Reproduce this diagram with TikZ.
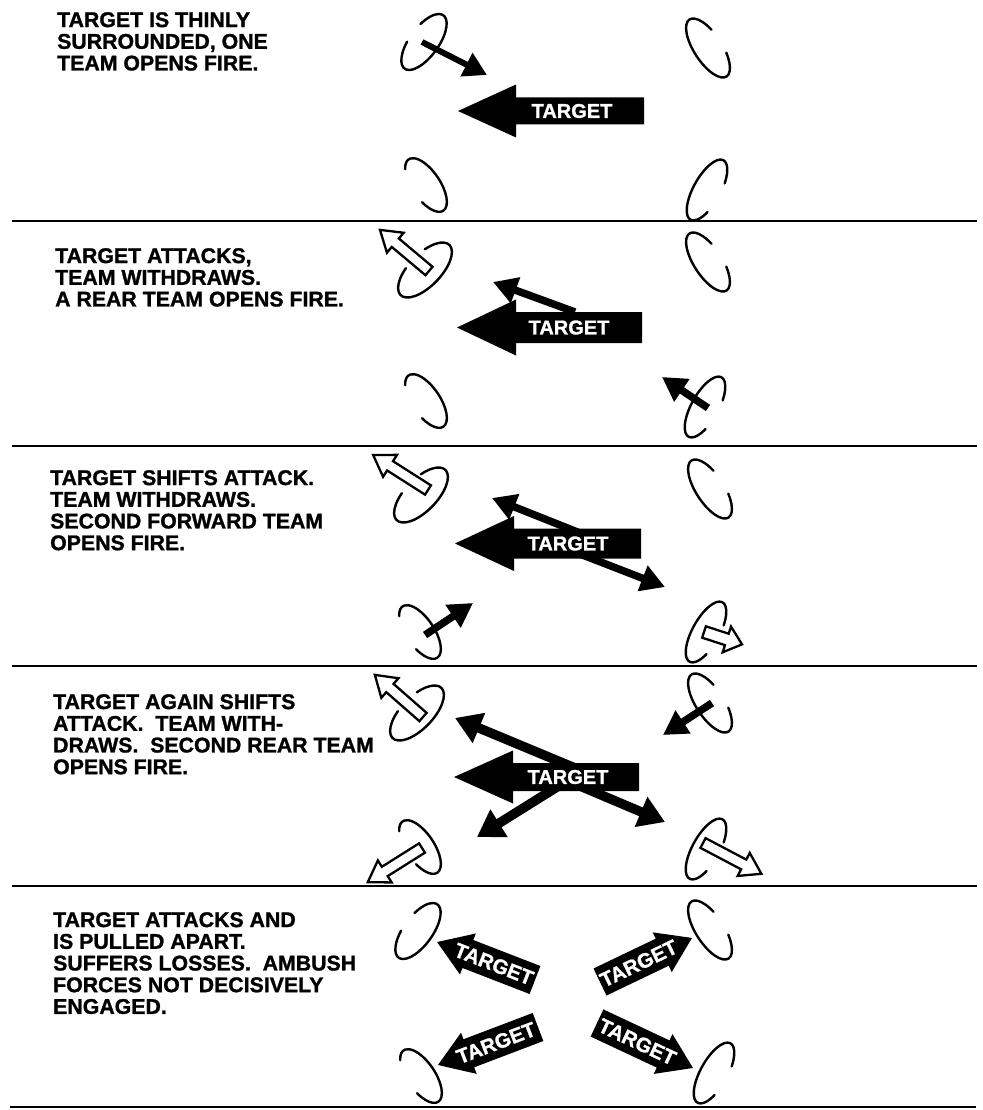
\documentclass[tikz,border=0pt]{standalone}
\usepackage{fontspec}
\setmainfont{Liberation Sans}[BoldFeatures={FakeBold=1.2}]
\usetikzlibrary{arrows.meta}

\tikzset{
 rule/.style={line width=2.4pt},
 ring/.style={line width=2.4pt, line cap=round},
 blk/.style={line width=7.5pt, -{Triangle[length=24pt,width=26pt]}},
 blkfirst/.style={line width=6pt, -{Triangle[length=23pt,width=25pt]}},
 blkthick/.style={line width=9.5pt, -{Triangle[length=26pt,width=31pt]}},
 hollow/.style={fill=white, draw=black, line width=2.3pt, line join=miter},
 solid arrow/.style={fill=black},
 caption/.style={anchor=north west, inner sep=0pt, align=left, font=\bfseries\fontsize{21.3}{21.7}\selectfont},
 tgt/.style={text=white, inner sep=0pt, font=\bfseries\fontsize{20}{20}\selectfont},
 tgtfive/.style={text=white, inner sep=0pt, font=\bfseries\fontsize{20.5}{20}\selectfont},
}

% ring: centre x, centre y, semi-major, semi-minor, rotation, start, end
\newcommand\ring[7]{\draw[ring, shift={(#1,#2)}, rotate=#5] (#6:#3pt and #4pt) arc[start angle=#6, end angle=#7, x radius=#3pt, y radius=#4pt];}
\newcommand\ringTL[2]{\ring{#1}{#2}{33}{14.5}{54}{107}{428}}
\newcommand\ringTLw[2]{\ring{#1}{#2}{35}{16}{46}{110}{425}}
\newcommand\ringTR[2]{\ring{#1}{#2}{34}{14}{-57}{113}{426}}
\newcommand\ringBL[2]{\ring{#1}{#2}{31}{14}{-56}{-67}{217}}
\newcommand\ringBR[2]{\ring{#1}{#2}{34}{13.5}{61}{-65}{236}}

% block arrow: style, tail x, tail y, angle, length, shaft width, head length, head width
\newcommand\blockarr[8]{\path[#1, shift={(#2,#3)}, rotate=#4] (0,{-#6/2}) -- ({#5-#7},{-#6/2}) -- ({#5-#7},{-#8/2}) -- (#5,0) -- ({#5-#7},{#8/2}) -- ({#5-#7},{#6/2}) -- (0,{#6/2}) -- cycle;}

% labelled arrow of the last panel: tail x, tail y, angle, length, text rotation, name
\newcommand\tgtarrow[6]{\begin{scope}[shift={(#1,#2)}, rotate=#3]
 \fill (0,-15) -- ({#4-33},-15) -- ({#4-33},-22) -- (#4,0) -- ({#4-33},22) -- ({#4-33},15) -- (0,15) -- cycle;
 \node[tgtfive, rotate=#5] (#6) at ({0.42*#4},0) {TARGET};
\end{scope}}

\begin{document}
\begin{tikzpicture}[x=1pt,y=1pt]
\useasboundingbox (0,0) rectangle (982,-1110);

% rules
\draw[rule] (12,-221) -- (977,-221);
\draw[rule] (12,-446) -- (977,-446);
\draw[rule] (12,-666) -- (977,-666);
\draw[rule] (12,-886) -- (977,-886);
\draw[rule] (10,-1107) -- (976,-1107);

% captions
\node[caption] (c1) at (57,-12) {TARGET IS THINLY\\SURROUNDED, ONE\\TEAM OPENS FIRE.};
\node[caption] (c2) at (55,-248) {TARGET ATTACKS,\\TEAM WITHDRAWS.\\A REAR TEAM OPENS FIRE.};
\node[caption] (c3) at (50,-470) {TARGET SHIFTS ATTACK.\\TEAM WITHDRAWS.\\SECOND FORWARD TEAM\\OPENS FIRE.};
\node[caption] (c4) at (53,-694) {TARGET AGAIN SHIFTS\\ATTACK.\ \ TEAM WITH-\\DRAWS.\ \ SECOND REAR TEAM\\OPENS FIRE.};
\node[caption] (c5) at (53,-912) {TARGET ATTACKS AND\\IS PULLED APART.\\SUFFERS LOSSES.\ \ AMBUSH\\FORCES NOT DECISIVELY\\ENGAGED.};

% ---------- panel 1
\ringTL{424}{-42} \ringTR{708}{-48} \ringBL{426}{-185} \ringBR{707}{-190}
\blockarr{solid arrow}{644}{-111}{180}{186}{27}{58}{53}
\draw[blkfirst] (422,-42) -- (487,-75);
\node[tgt] (t1) at (572,-111) {TARGET};

% ---------- panel 2
\ringTLw{425}{-270} \ringTR{708}{-262} \ringBL{426}{-401} \ringBR{705}{-407}
\blockarr{solid arrow}{642}{-327.5}{180}{185}{31}{59}{56}
\draw[blk] (575,-312) -- (493,-282);
\draw[blk] (708,-408) -- (662,-377);
\blockarr{hollow}{429}{-271}{140}{64}{11}{20}{26}
\node[tgt] (t2) at (569,-327.5) {TARGET};

% ---------- panel 3
\ringTLw{421}{-495} \ringTR{710}{-489} \ringBL{420}{-632} \ringBR{706}{-632}
\blockarr{solid arrow}{641}{-543.5}{180}{186}{30}{59}{55}
\draw[blk] (580,-533) -- (492,-498);
\draw[blk] (580,-554) -- (665,-587);
\draw[blk] (425,-635) -- (473,-603);
\blockarr{hollow}{428}{-490}{147.5}{65}{11}{20}{26}
\blockarr{hollow}{704}{-632}{-18}{40}{12}{16}{27}
\node[tgt] (t3) at (568,-543.5) {TARGET};

% ---------- panel 4
\ringTLw{417}{-713} \ringTR{710}{-703} \ringBL{420}{-847} \ringBR{706}{-849}
\blockarr{solid arrow}{639}{-777}{180}{185}{28}{59}{53}
\draw[blk] (712,-703) -- (663,-735);
\draw[blkthick] (575,-768) -- (455,-718);
\draw[blkthick] (565,-782) -- (477,-837);
\draw[blkthick] (580,-786) -- (665,-822);
\blockarr{hollow}{423}{-717}{138.8}{64}{11}{20}{26}
\blockarr{hollow}{422}{-848}{212.2}{64}{11}{20}{26}
\blockarr{hollow}{703}{-843}{-27.8}{66}{11}{20}{26}
\node[tgt] (t4) at (568,-777) {TARGET};

% ---------- panel 5
\ringTL{418}{-931} \ringTR{710}{-930} \ringBL{421}{-1076} \ringBR{714}{-1073}
\tgtarrow{535}{-980}{158.8}{105}{-21.2}{t5a}
\tgtarrow{600}{-982}{25.6}{102}{25.6}{t5b}
\tgtarrow{538}{-1027}{200.8}{107}{20.8}{t5c}
\tgtarrow{597}{-1023}{-25.1}{106}{-25.1}{t5d}
\end{tikzpicture}
\end{document}
